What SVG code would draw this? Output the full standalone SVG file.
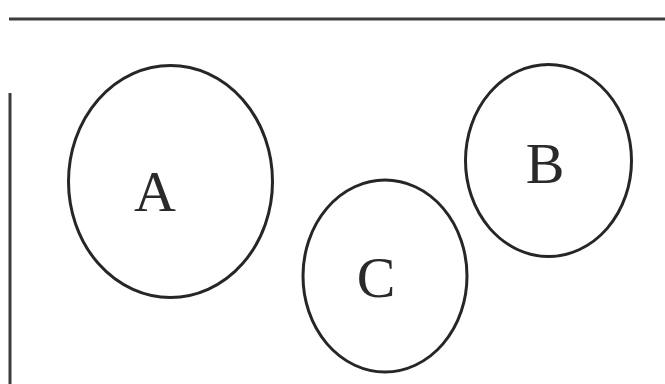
<svg xmlns="http://www.w3.org/2000/svg" width="665" height="384" viewBox="0 0 665 384">
  <style>
    .frame { stroke: #3c3c3c; stroke-width: 3; fill: none; }
    .set { stroke: #262626; stroke-width: 3; fill: none; }
    .label { font-family: "Liberation Serif", "Times New Roman", serif; font-size: 58px; fill: #2a2a2a; text-anchor: middle; }
  </style>
  <rect width="665" height="384" fill="#ffffff"/>
  <!-- frame lines -->
  <g id="frame">
    <line class="frame" x1="9" y1="19" x2="665" y2="19"/>
    <line class="frame" x1="10" y1="93" x2="10" y2="384"/>
  </g>
  <g id="connectors"></g>
  <g id="node-A">
    <ellipse class="set" cx="170.5" cy="181.5" rx="102" ry="116"/>
    <text class="label" x="155" y="211">A</text>
  </g>
  <g id="node-B">
    <ellipse class="set" cx="548.5" cy="160.5" rx="83" ry="96"/>
    <text class="label" x="545" y="183">B</text>
  </g>
  <g id="node-C">
    <ellipse class="set" cx="385" cy="276" rx="82" ry="96"/>
    <text class="label" x="376" y="297">C</text>
  </g>
</svg>
